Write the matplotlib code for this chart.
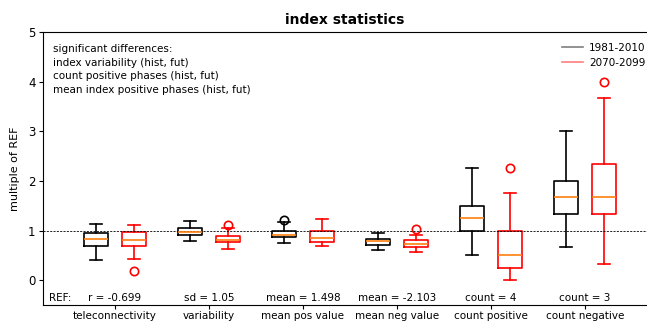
import matplotlib
matplotlib.use("Agg")
import matplotlib.pyplot as plt
from matplotlib.lines import Line2D

# index statistics relative to the reference period (multiple of REF)
categories = ["teleconnectivity", "variability", "mean pos value",
              "mean neg value", "count positive", "count negative"]
ref_labels = ["r = -0.699", "sd = 1.05", "mean = 1.498",
              "mean = -2.103", "count = 4", "count = 3"]

# box statistics per category: (whislo, q1, med, q3, whishi, fliers)
hist_stats = [
    (0.40, 0.69, 0.82, 0.95, 1.14, []),
    (0.79, 0.91, 0.98, 1.05, 1.20, []),
    (0.75, 0.86, 0.92, 1.00, 1.17, [1.21]),
    (0.60, 0.71, 0.78, 0.83, 0.96, []),
    (0.50, 1.00, 1.25, 1.50, 2.25, []),
    (0.667, 1.333, 1.667, 2.00, 3.00, []),
]
fut_stats = [
    (0.42, 0.68, 0.80, 0.97, 1.11, [0.19]),
    (0.63, 0.76, 0.81, 0.89, 1.05, [1.12]),
    (0.69, 0.76, 0.85, 0.99, 1.24, []),
    (0.57, 0.66, 0.73, 0.80, 0.92, [1.03]),
    (0.00, 0.25, 0.50, 1.00, 1.75, [2.25]),
    (0.333, 1.333, 1.667, 2.333, 3.667, [4.00]),
]
significant = ["index variability (hist, fut)",
               "count positive phases (hist, fut)",
               "mean index positive phases (hist, fut)"]


def to_bxp(stats, label):
    out = []
    for lo, q1, med, q3, hi, fl in stats:
        out.append(dict(whislo=lo, q1=q1, med=med, q3=q3, whishi=hi,
                        fliers=fl, label=label))
    return out


fig = plt.figure(figsize=(6.47, 3.23), dpi=100)
ax = fig.add_axes([0.0665, 0.0557, 0.9335, 0.8453])

positions = list(range(1, len(categories) + 1))
offset = 0.2
width = 0.25


def draw(stats, color, shift):
    lw = 1.2
    ax.bxp(to_bxp(stats, ""), positions=[p + shift for p in positions],
           widths=width, manage_ticks=False,
           boxprops=dict(color=color, lw=lw),
           whiskerprops=dict(color=color, lw=lw),
           capprops=dict(color=color, lw=lw),
           medianprops=dict(color="#ff7f0e", lw=lw),
           flierprops=dict(marker="o", markerfacecolor="none",
                           markeredgecolor=color, markersize=6,
                           markeredgewidth=1.2))


draw(hist_stats, "black", -offset)
draw(fut_stats, "red", offset)

ax.axhline(1.0, color="black", ls="--", lw=0.6, dashes=(2.5, 1.5))

ax.set_xlim(0.234, 6.66)
ax.set_ylim(-0.5, 5)
ax.set_xticks(positions)
ax.set_xticklabels(categories, fontsize=7.5)
ax.tick_params(axis="x", length=3, pad=1.5)
ax.set_yticks([0, 1, 2, 3, 4, 5])
ax.tick_params(axis="y", labelsize=8.5, length=3, pad=2.5)
ax.set_ylabel("multiple of REF", fontsize=8, labelpad=6)
ax.spines["right"].set_visible(False)
ax.set_title("index statistics", fontsize=10, fontweight="bold", pad=6)

ax.text(0.3, -0.35, "REF:", fontsize=7.5, ha="left", va="center")
for p, lab in zip(positions, ref_labels):
    ax.text(p, -0.35, lab, fontsize=7.5, ha="center", va="center")

ax.text(0.016, 0.955, "significant differences:\n" + "\n".join(significant),
        transform=ax.transAxes, fontsize=7.5, ha="left", va="top",
        linespacing=1.45)

handles = [Line2D([], [], color="black", alpha=0.5, lw=1.2),
           Line2D([], [], color="red", alpha=0.5, lw=1.2)]
ax.legend(handles, ["1981-2010", "2070-2099"], loc="upper right",
          bbox_to_anchor=(0.998, 0.96), frameon=False, fontsize=7.5,
          handlelength=2.0, handletextpad=0.6, labelspacing=0.5,
          borderaxespad=0.0, borderpad=0.0)

fig.savefig("out.png", dpi=100)
